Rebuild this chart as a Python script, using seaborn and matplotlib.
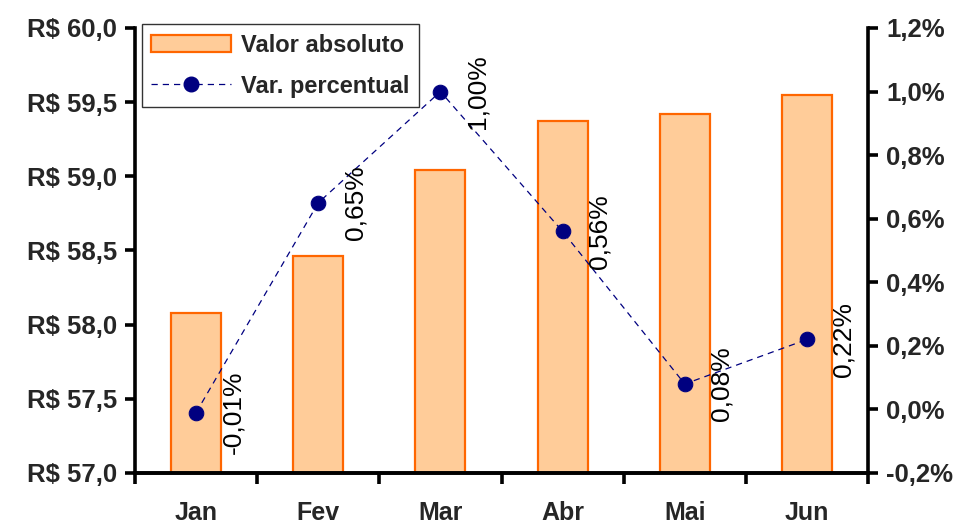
import matplotlib

matplotlib.use("Agg")

import matplotlib.pyplot as plt
import numpy as np
import pandas as pd
import seaborn as sns
from matplotlib.lines import Line2D
from matplotlib.patches import Patch
from matplotlib.ticker import FixedLocator, FuncFormatter

months = ["Jan", "Fev", "Mar", "Abr", "Mai", "Jun"]
valor_absoluto = [58.08, 58.46, 59.04, 59.37, 59.42, 59.55]
var_percentual = [-0.01, 0.65, 1.00, 0.56, 0.08, 0.22]
var_labels = ["-0,01%", "0,65%", "1,00%", "0,56%", "0,08%", "0,22%"]

BAR_FILL = "#FFCC99"
BAR_EDGE = "#FF6600"
LINE_COLOR = "#000080"
FONT = ["Liberation Sans", "DejaVu Sans"]
TICK_SIZE = 18.5


def main() -> None:
    sns.set_theme(style="white")
    plt.rcParams["font.family"] = FONT

    df = pd.DataFrame({
        "Mes": months,
        "pos": np.arange(len(months)),
        "Valor": valor_absoluto,
        "Var": var_percentual,
    })

    fig = plt.figure(figsize=(9.55, 5.26), dpi=100)
    ax = fig.add_axes([0.1414, 0.1008, 0.7675, 0.8460])

    sns.barplot(data=df, x="Mes", y="Valor", color=BAR_FILL, edgecolor=BAR_EDGE,
                linewidth=1.6, width=0.41, saturation=1, ax=ax)
    ax.set_ylim(57.0, 60.0)
    ax.set_xlim(-0.5, len(months) - 0.5)
    ax.set_yticks(np.arange(57.0, 60.01, 0.5))
    ax.yaxis.set_major_formatter(
        FuncFormatter(lambda v, _: f"R$ {v:.1f}".replace(".", ",")))
    ax.set_xlabel("")
    ax.set_ylabel("")

    ax2 = ax.twinx()
    sns.lineplot(data=df, x="pos", y="Var", color=LINE_COLOR, linestyle=(0, (5, 4)),
                 linewidth=0.9, marker="o", markersize=10.5, markeredgecolor=LINE_COLOR,
                 ax=ax2)
    ax2.set_ylim(-0.2, 1.2)
    ax2.set_yticks(np.arange(-0.2, 1.21, 0.2))
    ax2.yaxis.set_major_formatter(
        FuncFormatter(lambda v, _: f"{v:.1f}%".replace(".", ",").replace("-0,0", "0,0")))
    ax2.set_xlabel("")
    ax2.set_ylabel("")
    ax2.set_xlim(-0.5, len(months) - 0.5)

    for x, y, lab in zip(df["pos"], var_percentual, var_labels):
        ax2.annotate(lab, (x, y), xytext=(18, 0), textcoords="offset points",
                     rotation=90, ha="left", va="center", fontsize=19,
                     color="black")

    for a in (ax, ax2):
        for side in ("left", "right", "bottom"):
            a.spines[side].set_visible(True)
            a.spines[side].set_color("black")
            a.spines[side].set_linewidth(2.6)
        a.spines["top"].set_visible(False)

    ax.spines["right"].set_visible(False)
    ax2.spines["left"].set_visible(False)

    ax.tick_params(axis="y", which="major", direction="out", length=7, width=2.6,
                   color="black", left=True, labelsize=TICK_SIZE, pad=6)
    ax2.tick_params(axis="y", which="major", direction="out", length=7, width=2.6,
                    color="black", right=True, labelsize=TICK_SIZE, pad=6)
    ax.xaxis.set_minor_locator(FixedLocator(np.arange(-0.5, len(months), 1.0)))
    ax.tick_params(axis="x", which="minor", direction="out", length=8, width=2.6,
                   color="black", bottom=True)
    ax.tick_params(axis="x", which="major", length=0, labelsize=18, pad=20)
    for lab in ax.get_xticklabels() + ax.get_yticklabels() + ax2.get_yticklabels():
        lab.set_fontweight("bold")

    handles = [
        Patch(facecolor=BAR_FILL, edgecolor=BAR_EDGE, linewidth=1.6),
        Line2D([0], [0], color=LINE_COLOR, linestyle=(0, (5, 4)), linewidth=0.9,
               marker="o", markersize=10.5),
    ]
    leg = ax2.legend(handles, ["Valor absoluto", "Var. percentual"],
                     loc="upper left", bbox_to_anchor=(0.009, 1.008), frameon=True,
                     fancybox=False, edgecolor="black", fontsize=17,
                     handlelength=3.4, borderpad=0.4, labelspacing=0.75,
                     handletextpad=0.4, borderaxespad=0)
    leg.get_frame().set_linewidth(1.0)
    for t in leg.get_texts():
        t.set_fontweight("bold")

    fig.savefig("out.png", dpi=100)


if __name__ == "__main__":
    main()
